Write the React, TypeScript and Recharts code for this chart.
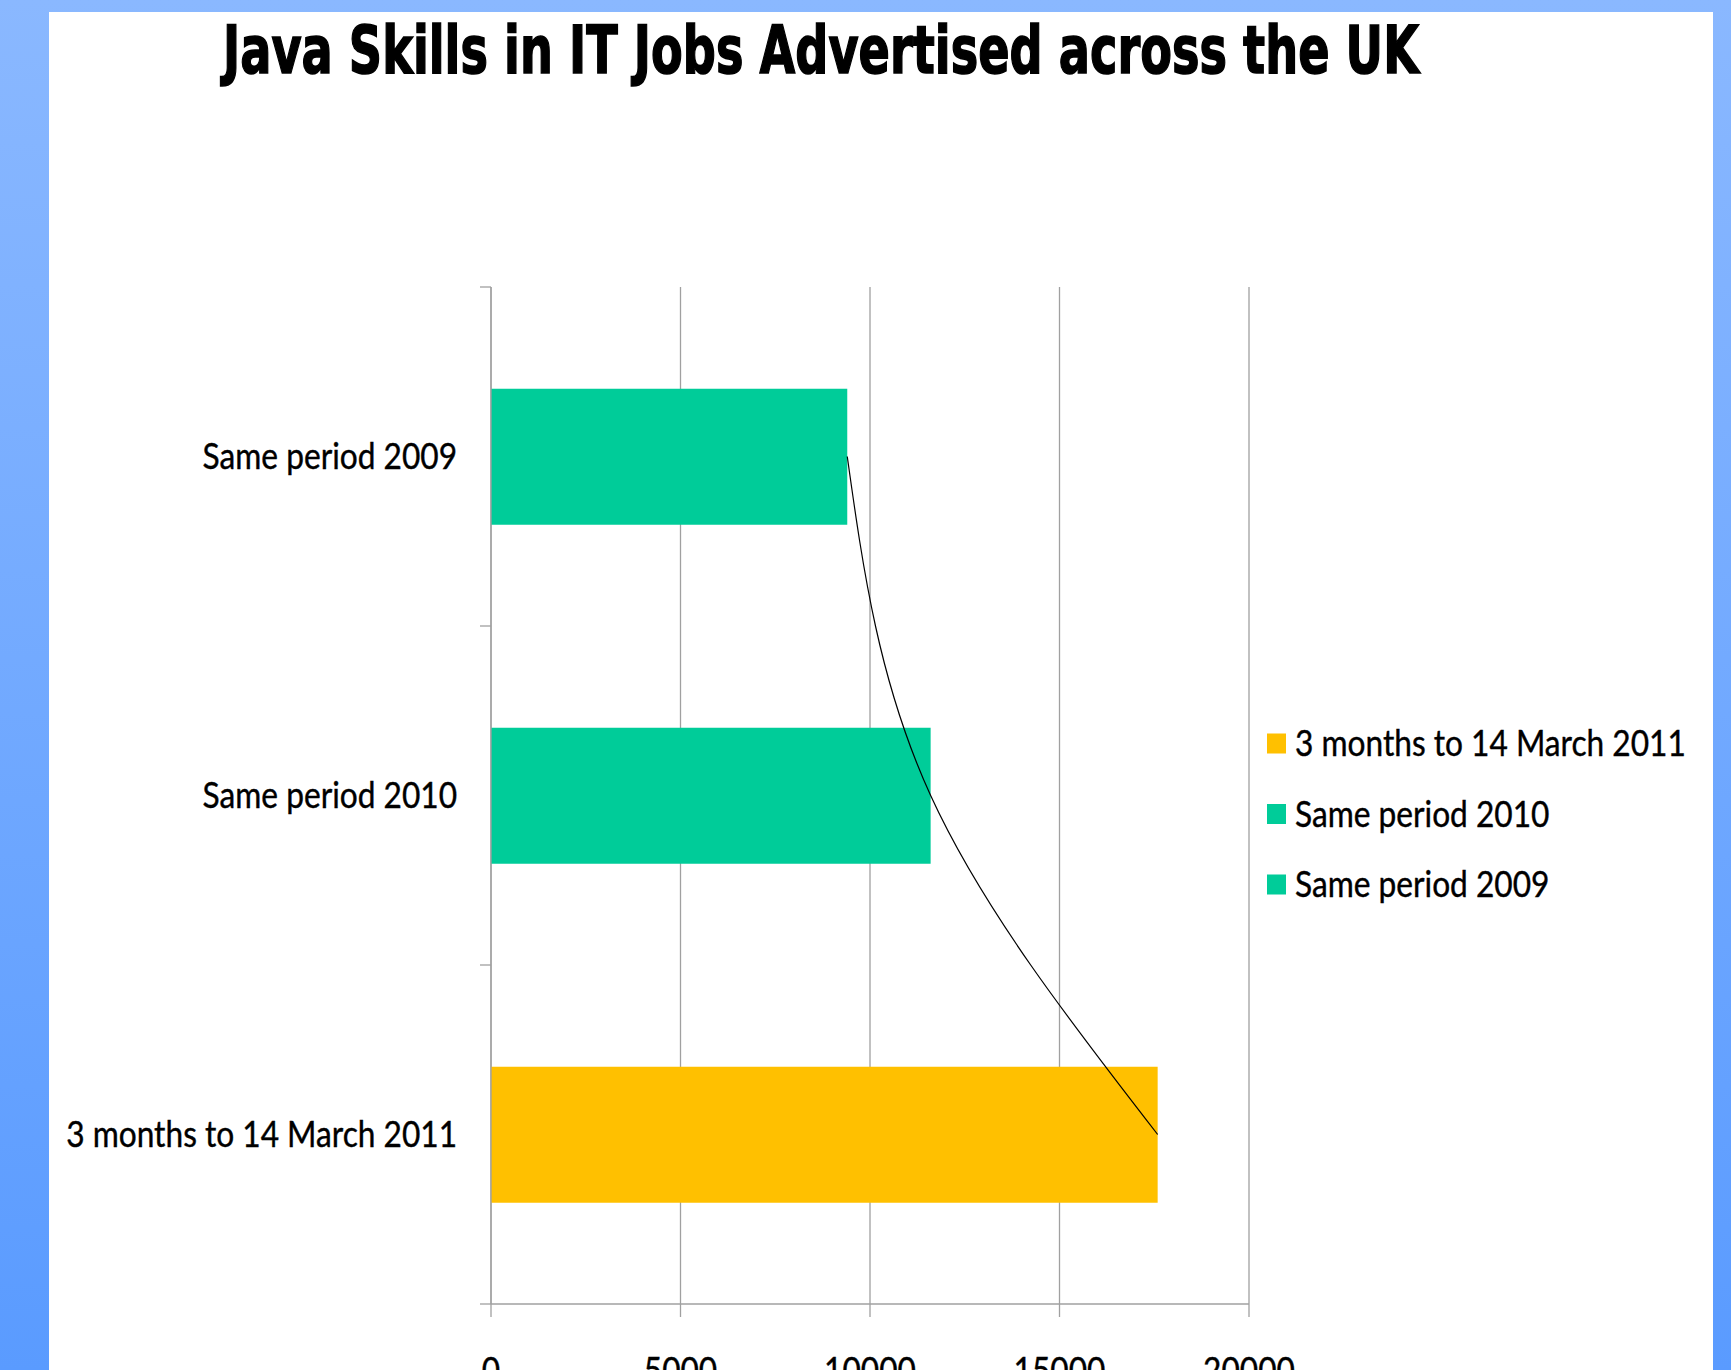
import React from "react";
import {
  ComposedChart,
  Bar,
  Line,
  XAxis,
  YAxis,
  CartesianGrid,
  Cell,
  Legend,
} from "recharts";

// values (number of jobs citing Java)
const categories = ["Same period 2009", "Same period 2010", "3 months to 14 March 2011"];
const jobCounts = [9400, 11600, 17590];
const xTicks = [0, 5000, 10000, 15000, 20000];
const title = "Java Skills in IT Jobs Advertised across the UK";

const TEAL = "#00CC99";
const GOLD = "#FFC000";
const barColors = [TEAL, TEAL, GOLD];
const AXIS = "#A0A0A0";

const W = 1731;
const H = 1370;
const MARGIN = { top: 287, right: 482, bottom: 6, left: 50 };
const Y_AXIS_W = 441;
const X_AXIS_H = 60;
const PLOT_H = H - MARGIN.top - MARGIN.bottom - X_AXIS_H;
const BAND = PLOT_H / categories.length;
const AXIS_X = MARGIN.left + Y_AXIS_W;
const LABEL_FONT = "Lato, 'Open Sans', sans-serif";
const SQUEEZE = 0.88;

const data = categories.map((name, i) => ({ name, value: jobCounts[i] }));

function CategoryTick({ y, payload }: any) {
  const i = categories.indexOf(payload.value);
  const last = i === categories.length - 1;
  return (
    <g>
      <line x1={AXIS_X - 11} x2={AXIS_X} y1={y - BAND / 2} y2={y - BAND / 2} stroke={AXIS} strokeWidth={1.3} />
      {last && (
        <line x1={AXIS_X - 11} x2={AXIS_X} y1={y + BAND / 2} y2={y + BAND / 2} stroke={AXIS} strokeWidth={1.3} />
      )}
      <text
        transform={`translate(${AXIS_X - 34},${y}) scale(${SQUEEZE},1)`}
        textAnchor="end"
        dy="0.36em"
        fontFamily={LABEL_FONT}
        fontSize={36}
        fill="#000"
        stroke="#000"
        strokeWidth={0.4}
      >
        {payload.value}
      </text>
    </g>
  );
}

function ValueTick({ x, y, payload }: any) {
  return (
    <text
      transform={`translate(${x},${y}) scale(${SQUEEZE},1)`}
      textAnchor="middle"
      dy={64}
      fontFamily={LABEL_FONT}
      fontSize={36}
      fill="#000"
      stroke="#000"
      strokeWidth={0.4}
    >
      {payload.value}
    </text>
  );
}

function LegendBox() {
  const items = categories.map((c, i) => ({ label: c, color: barColors[i] })).reverse();
  return (
    <svg width={460} height={190}>
      {items.map((it, i) => {
        const cy = 21.5 + i * 70.5;
        return (
          <g key={it.label}>
            <rect x={1} y={cy - 10} width={19} height={20} fill={it.color} />
            <text
              transform={`translate(29,${cy}) scale(${SQUEEZE},1)`}
              dy="0.36em"
              fontFamily={LABEL_FONT}
              fontSize={36}
              fill="#000"
              stroke="#000"
              strokeWidth={0.4}
            >
              {it.label}
            </text>
          </g>
        );
      })}
    </svg>
  );
}

export default function App() {
  return (
    <div
      style={{
        position: "absolute",
        left: 0,
        top: 0,
        width: W,
        height: H,
        overflow: "hidden",
        background: "linear-gradient(#8AB8FF, #5A9BFF)",
      }}
    >
      <div style={{ position: "absolute", left: 49, top: 12, width: 1713 - 49, height: H, background: "#fff" }} />
      <svg width={W} height={100} style={{ position: "absolute", left: 0, top: 0 }}>
        <text
          x={223}
          y={73}
          fontFamily="'DejaVu Sans', Verdana, sans-serif"
          fontWeight="bold"
          fontSize={66}
          textLength={1196}
          lengthAdjust="spacingAndGlyphs"
          fill="#000"
          stroke="#000"
          strokeWidth={1.6}
        >
          {title}
        </text>
      </svg>
      <div style={{ position: "absolute", left: 0, top: 0 }}>
        <ComposedChart width={W} height={H} data={data} layout="vertical" margin={MARGIN} barCategoryGap="30%">
          <CartesianGrid horizontal={false} stroke={AXIS} strokeWidth={1.3} />
          <XAxis
            type="number"
            domain={[0, 20000]}
            ticks={xTicks}
            interval={0}
            height={X_AXIS_H}
            tickSize={13}
            tickMargin={2}
            axisLine={{ stroke: AXIS, strokeWidth: 1.3 }}
            tickLine={{ stroke: AXIS, strokeWidth: 1.3 }}
            tick={(p: any) => <ValueTick {...p} />}
          />
          <YAxis
            type="category"
            dataKey="name"
            width={Y_AXIS_W}
            interval={0}
            axisLine={{ stroke: AXIS, strokeWidth: 1.3 }}
            tickLine={false}
            tick={(p: any) => <CategoryTick {...p} />}
          />
          <Legend
            layout="vertical"
            align="center"
            verticalAlign="middle"
            wrapperStyle={{ left: 1266, top: 722, width: 460, height: 190 }}
            content={() => <LegendBox />}
          />
          <Bar dataKey="value" isAnimationActive={false} legendType="none">
            {data.map((d, i) => (
              <Cell key={d.name} fill={barColors[i]} />
            ))}
          </Bar>
          <Line
            type="natural"
            dataKey="value"
            stroke="#000"
            strokeWidth={1.2}
            dot={false}
            activeDot={false}
            legendType="none"
            isAnimationActive={false}
          />
        </ComposedChart>
      </div>
    </div>
  );
}
